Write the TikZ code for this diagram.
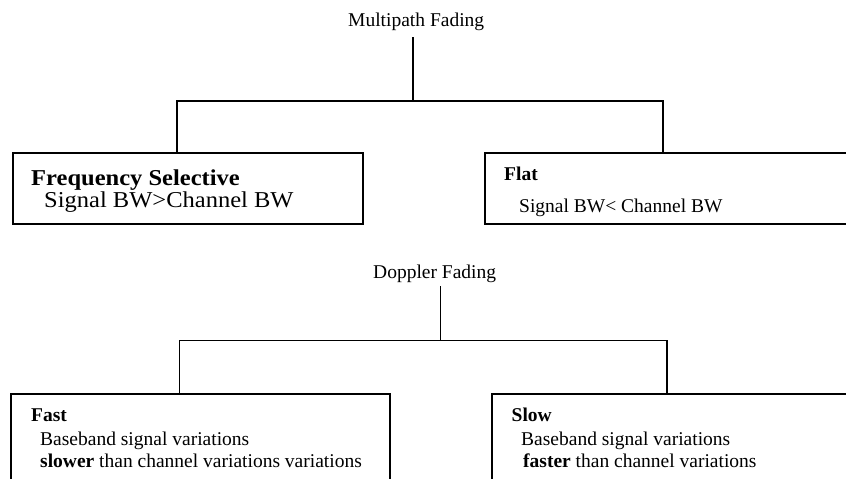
\documentclass[tikz,border=0pt]{standalone}
\usepackage{fontspec}
\setmainfont{Liberation Serif}
\newfontfamily\widefont{Liberation Serif}[FakeStretch=1.08]
\begin{document}
\begin{tikzpicture}[x=1pt,y=-1pt,
  link/.style={line width=1.9pt},
  panel/.style={draw, line width=2pt, inner sep=0pt, anchor=north west},
  txt/.style={inner sep=0pt, anchor=base west, font=\fontsize{19.5}{23}\selectfont},
  bigtxt/.style={inner sep=0pt, anchor=base west, font=\widefont\fontsize{22.7}{26}\selectfont}]
\clip (0,0) rectangle (846,479);
\fill[white] (0,0) rectangle (846,479);

% ---- Multipath fading tree ----
\node[txt] (mp) at (348,26.7) {Multipath Fading};
\coordinate (mptop) at (413,37);
\coordinate (mpj) at (413,101);
\coordinate (mpL) at (177,101);
\coordinate (mpR) at (663,101);

\node[panel, minimum width=350pt, minimum height=71pt] (fs) at (11.5,152) {};
\node[panel, minimum width=420pt, minimum height=71pt] (fl) at (484,152) {};

\node[bigtxt] (fsh) at (31,185) {\bfseries Frequency Selective};
\node[bigtxt] (fsb) at (44,207) {Signal BW>Channel BW};
\node[txt] (flh) at (504,180) {\bfseries Flat};
\node[txt] (flb) at (519,212.3) {Signal BW< Channel BW};

\draw[link] (mptop) -- (mpj);
\draw[link] (mpL |- fs.north) -- (mpL) -- (mpR) -- (mpR |- fl.north);

% ---- Doppler fading tree ----
\node[txt] (dp) at (373,278) {Doppler Fading};
\coordinate (dptop) at (440.5,286);
\coordinate (dpj) at (440.5,340.5);
\coordinate (dpL) at (179.5,340.5);
\coordinate (dpR) at (667,340.5);

\node[panel, minimum width=379pt, minimum height=120pt] (fa) at (10,392.5) {};
\node[panel, minimum width=420pt, minimum height=120pt] (sl) at (491,392.5) {};

\node[txt] (fah) at (31,421) {\bfseries Fast};
\node[txt] (fa1) at (40,445) {Baseband signal variations};
\node[txt] (fa2) at (40,467) {\textbf{slower} than channel variations variations};

\node[txt] (slh) at (511.5,421) {\bfseries Slow};
\node[txt] (sl1) at (521,445) {Baseband signal variations};
\node[txt] (sl2) at (523,467) {\textbf{faster} than channel variations};

\draw[link] (dptop) -- (dpj);
\draw[link] (dpL |- fa.north) -- (dpL) -- (dpR) -- (dpR |- sl.north);
\end{tikzpicture}
\end{document}
